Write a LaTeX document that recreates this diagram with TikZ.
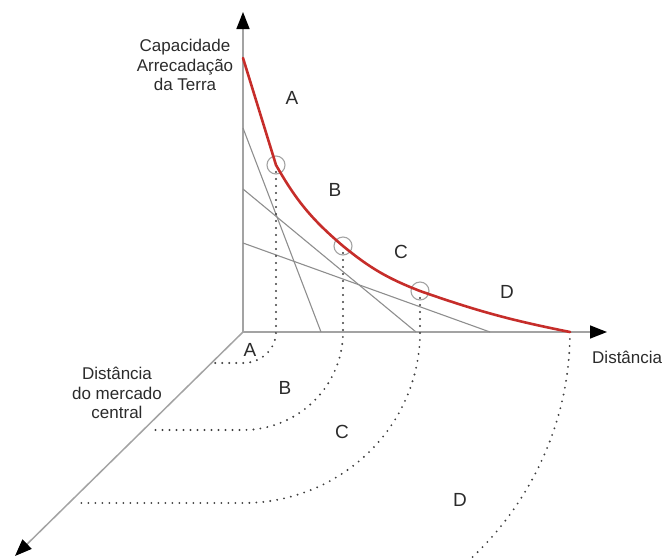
\documentclass[tikz,border=0pt]{standalone}
\usepackage{fontspec}
\setmainfont{Liberation Sans}
\usetikzlibrary{arrows.meta}
\definecolor{curvered}{HTML}{C62D2A}
\definecolor{axisgray}{HTML}{A3A3A3}
\definecolor{linegray}{HTML}{8E8E8E}
\definecolor{dotgray}{HTML}{3F3F3F}
\definecolor{txt}{HTML}{2B2B2B}
\begin{document}
\begin{tikzpicture}[x=1pt,y=-1pt,line join=round,text=txt,
  font=\fontsize{17}{19.5}\selectfont,
  axis/.style={draw=axisgray,line width=1.5pt,-{Triangle[color=black,width=13pt,length=17pt]}},
  tangent/.style={draw=linegray,line width=1.1pt},
  dotline/.style={draw=dotgray,line width=2.1pt,line cap=round,dash pattern=on 0pt off 7pt},
  ring/.style={circle,draw=axisgray,line width=1.1pt,minimum size=18pt,inner sep=0pt},
  zone/.style={font=\fontsize{19}{22}\selectfont}]
  \useasboundingbox (0,0) rectangle (669,558);
  % axes
  \coordinate (O) at (243,332);
  \coordinate (yend) at (243,12);
  \coordinate (xend) at (607,332);
  \coordinate (zend) at (15,556);
  \draw[axis] (O)--(yend);
  \draw[axis] (O)--(xend);
  \draw[axis] (O)--(zend);
  % tangent lines
  \coordinate (t1a) at (243,128); \coordinate (t1b) at (321,332);
  \coordinate (t2a) at (243,189); \coordinate (t2b) at (416,332);
  \coordinate (t3a) at (243,243); \coordinate (t3b) at (490,332);
  \draw[tangent] (t1a)--(t1b);
  \draw[tangent] (t2a)--(t2b);
  \draw[tangent] (t3a)--(t3b);
  % projections
  \coordinate (p1) at (276,332); \coordinate (q1) at (212,363);
  \coordinate (p2) at (343,332); \coordinate (q2) at (149,430);
  \coordinate (p3) at (420,332); \coordinate (q3) at (76,503);
  \coordinate (p4) at (570,332);
  \node[ring] (c1) at (276,165) {};
  \node[ring] (c2) at (343,246) {};
  \node[ring] (c3) at (420,291) {};
  \draw[dotline] (c1.center)--(p1) arc[start angle=0,end angle=90,x radius=33,y radius=31]--(q1);
  \draw[dotline] (c2.center)--(p2) arc[start angle=0,end angle=90,x radius=100,y radius=98]--(q2);
  \draw[dotline] (c3.center)--(p3) arc[start angle=0,end angle=90,x radius=177,y radius=171]--(q3);
  \draw[dotline] (p4) arc[start angle=0,end angle=47,x radius=327,y radius=316];
  % rent curve
  \coordinate (r0) at (243,58);
  \draw[curvered,line width=2.6pt,line cap=round]
    (r0) -- (c1.center) to[bend right=10] (c2.center)
    to[bend right=9] (c3.center) to[bend right=4] (p4);
  % labels
  \node[align=center] (ylab) at (185,65) {Capacidade\\Arrecadação\\da Terra};
  \node[anchor=west,inner sep=0pt] (xlab) at (592,357) {Distância};
  \node[align=center] (zlab) at (117,393) {Distância\\do mercado\\central};
  \node[zone] (uA) at (292,98) {A};
  \node[zone] (uB) at (335,190) {B};
  \node[zone] (uC) at (401,252) {C};
  \node[zone] (uD) at (507,292) {D};
  \node[zone] (lA) at (250,350) {A};
  \node[zone] (lB) at (285,388) {B};
  \node[zone] (lC) at (342,432) {C};
  \node[zone] (lD) at (460,500) {D};
\end{tikzpicture}
\end{document}
